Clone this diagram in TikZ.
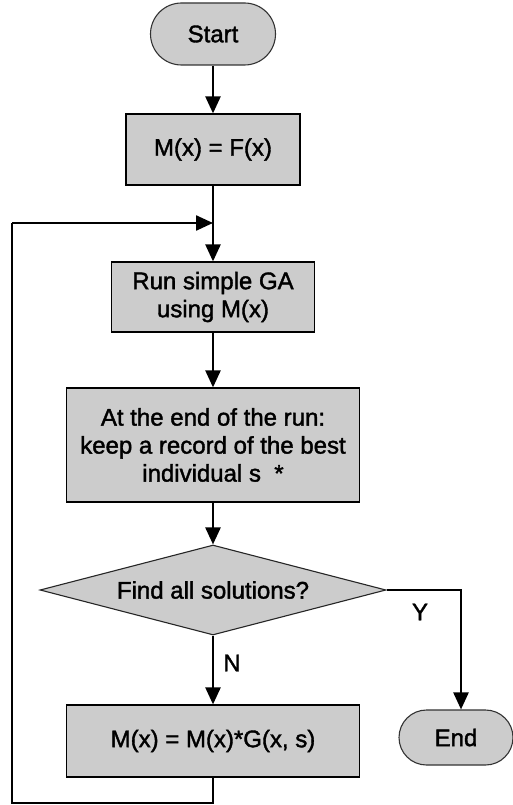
\documentclass[tikz,border=0pt]{standalone}
\usepackage{fontspec}
\setmainfont{Liberation Sans}
\newfontfamily\heavysans[FakeBold=1.6]{Liberation Sans}
\usetikzlibrary{shapes.geometric,arrows.meta}

\definecolor{boxfill}{gray}{0.80}

\tikzset{
  x=1pt, y=-1pt,
  every node/.style={font=\heavysans\fontsize{24}{28}\selectfont, align=center},
  procbox/.style={draw=black, line width=1.2pt, fill=boxfill, inner sep=0pt},
  termbox/.style={draw=black!80, line width=1.1pt, fill=boxfill, inner sep=0pt},
  decbox/.style={diamond, draw=black!85, line width=1.1pt, fill=boxfill, inner sep=0pt, aspect=3.8},
  flow/.style={line width=2.4pt, -{Triangle[length=17pt,width=15pt]}},
  plainline/.style={line width=2.4pt},
  lbl/.style={inner sep=0pt}
}

\begin{document}
\begin{tikzpicture}
  \useasboundingbox (0,0) rectangle (513,805);
  \fill[white] (0,0) rectangle (513,805);

  % flowchart blocks
  \node[termbox, minimum width=125pt, minimum height=62pt, rounded corners=31pt] (start) at (213,34) {Start};
  \node[procbox, minimum width=174pt, minimum height=71pt] (fbox) at (213,149.5) {M(x) = F(x)};
  \node[procbox, minimum width=203pt, minimum height=70pt] (run) at (213,297) {Run simple GA\\using M(x)};
  \node[procbox, minimum width=293pt, minimum height=114pt] (rec) at (213,445) {At the end of the run:\\keep a record of the best\\individual s\ \ *};
  \node[decbox, minimum width=346pt, minimum height=90pt] (dec) at (213,590) {Find all solutions?};
  \node[procbox, minimum width=293pt, minimum height=72pt] (upd) at (213,741) {M(x) = M(x)*G(x, s)};
  \node[termbox, minimum width=114pt, minimum height=55pt, rounded corners=27.5pt] (fin) at (456,737.5) {End};

  % branch labels
  \node[lbl] (ylab) at (420,612) {Y};
  \node[lbl] (nlab) at (232,663) {N};

  % loop-back route
  \coordinate (lb) at (12,803);
  \coordinate (lt) at (12,223);
  \coordinate (join) at (213,223);

  % connectors
  \draw[flow] (start) -- (fbox);
  \draw[flow] (fbox) -- (run);
  \draw[flow] (run) -- (rec);
  \draw[flow] (rec) -- (dec);
  \draw[flow] (dec) -- (upd);
  \draw[flow] (dec.east) -| ([xshift=5pt]fin.north);
  \draw[plainline] (upd.south) |- (lb) -- (lt);
  \draw[flow] (lt) -- (join);
\end{tikzpicture}
\end{document}
